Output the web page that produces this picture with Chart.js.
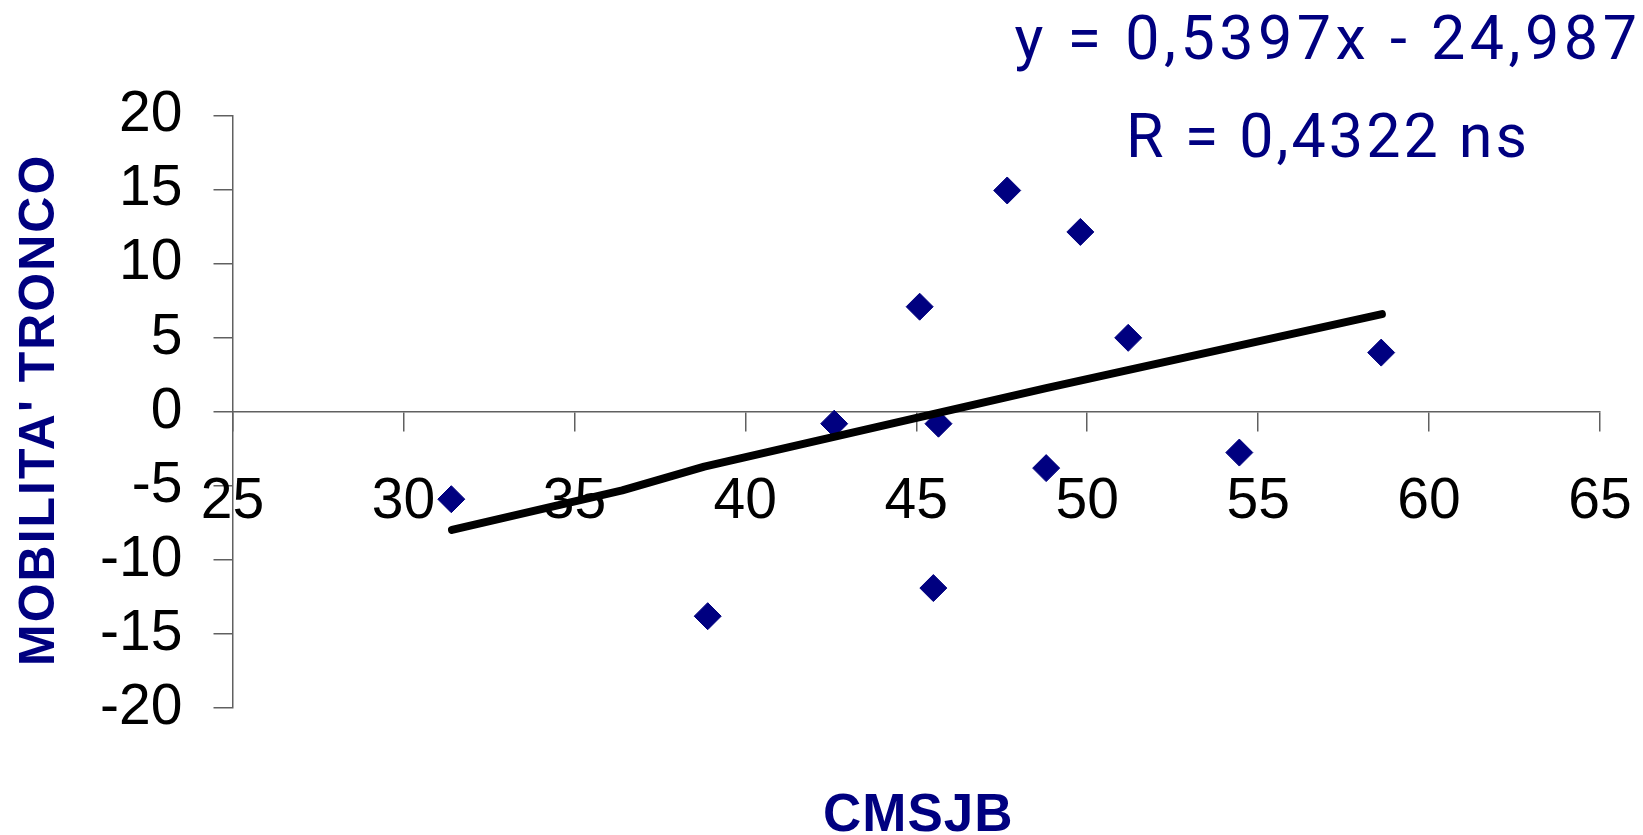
<!DOCTYPE html>
<html>
<head>
<meta charset="utf-8">
<script src="https://cdn.jsdelivr.net/npm/chart.js@4.4.1/dist/chart.umd.min.js"></script>
<style>
html,body{margin:0;padding:0;background:#fff;overflow:hidden}
#wrap{position:relative;width:1643px;height:835px}
</style>
</head>
<body>
<div id="wrap"><canvas id="c" width="1643" height="835"></canvas></div>
<script>
// ---- data ----
const cmsjb    = [31.4, 38.9, 42.6, 45.1, 45.65, 45.5, 47.66, 48.8, 49.8, 51.2, 54.45, 58.6];
const mobilita = [-5.9, -13.8, -0.8, 7.1, -0.8, -11.9, 14.95, -3.8, 12.15, 5.0, -2.75, 4.0];
const trendX   = [31.42, 36.4, 38.8, 48.8, 58.62];
const trendY   = [-7.97, -5.3, -3.7, 1.6, 6.6];
const xTicks   = [25, 30, 35, 40, 45, 50, 55, 60, 65];
const yTicks   = [-20, -15, -10, -5, 0, 5, 10, 15, 20];
const xTitle   = 'CMSJB';
const yTitle   = "MOBILITA' TRONCO";
const equation = ['y = 0,5397x - 24,987', 'R = 0,4322 ns'];

const NAVY = '#000080';
const AXIS = '#606060';

const textPlugin = {
  id: 'texts',
  afterDraw(chart) {
    const {ctx, chartArea} = chart;
    ctx.save();
    ctx.fillStyle = NAVY;
    // regression equation
    ctx.font = '400 61px Roboto';
    ctx.textAlign = 'center';
    ctx.textBaseline = 'alphabetic';
    ctx.letterSpacing = '4.5px';
    ctx.fillText(equation[0], 1328, 59);
    ctx.letterSpacing = '3px';
    ctx.fillText(equation[1], 1328, 157);
    // x axis title
    ctx.letterSpacing = '1px';
    ctx.font = 'bold 53px "Liberation Sans"';
    ctx.fillText(xTitle, (chartArea.left + chartArea.right) / 2 + 2, 831);
    // y axis title
    ctx.translate(40, (chartArea.top + chartArea.bottom) / 2 - 2);
    ctx.rotate(-Math.PI / 2);
    ctx.letterSpacing = '2px';
    ctx.font = 'bold 50px "Liberation Sans"';
    ctx.textBaseline = 'middle';
    ctx.fillText(yTitle, 0, 0);
    ctx.restore();
  }
};

const tickFont = {family: '"Liberation Sans", Arial, sans-serif', size: 57};

new Chart(document.getElementById('c'), {
  type: 'scatter',
  data: {
    datasets: [
      {
        label: 'Trend',
        data: trendX.map((x, i) => ({x: x, y: trendY[i]})),
        showLine: true,
        borderColor: '#000',
        borderWidth: 8,
        borderCapStyle: 'round',
        borderJoinStyle: 'round',
        pointRadius: 0,
        fill: false,
        order: 1
      },
      {
        label: 'MOBILITA',
        data: cmsjb.map((x, i) => ({x: x, y: mobilita[i]})),
        pointStyle: 'rectRot',
        pointRadius: 13.5,
        pointBackgroundColor: NAVY,
        pointBorderColor: NAVY,
        pointBorderWidth: 1,
        order: 2
      }
    ]
  },
  options: {
    responsive: false,
    animation: false,
    devicePixelRatio: 1,
    layout: {padding: {left: 0, top: 115.7, right: 43, bottom: 127}},
    plugins: {legend: {display: false}, tooltip: {enabled: false}, title: {display: false}},
    scales: {
      x: {
        type: 'linear',
        position: {y: 0},
        min: xTicks[0],
        max: xTicks[xTicks.length - 1],
        afterBuildTicks: s => { s.ticks = xTicks.map(v => ({value: v})); },
        afterFit: s => { s.paddingLeft = 0; s.paddingRight = 0; },
        ticks: {autoSkip: false, maxRotation: 0, minRotation: 0, padding: 37, color: '#000', font: tickFont,
                callback: v => String(v)},
        grid: {display: true, drawOnChartArea: false, drawTicks: true, tickLength: 19, color: AXIS, lineWidth: 1.5},
        border: {display: true, color: AXIS, width: 1.5}
      },
      y: {
        type: 'linear',
        position: 'left',
        min: yTicks[0],
        max: yTicks[yTicks.length - 1],
        afterBuildTicks: s => { s.ticks = yTicks.map(v => ({value: v})); },
        afterFit: s => { s.width = 232.5; },
        ticks: {autoSkip: false, padding: 31, color: '#000', font: tickFont, callback: v => String(v)},
        grid: {display: true, drawOnChartArea: false, drawTicks: true, tickLength: 19, color: AXIS, lineWidth: 1.5},
        border: {display: true, color: AXIS, width: 1.5}
      }
    }
  },
  plugins: [textPlugin]
});
</script>
</body>
</html>
